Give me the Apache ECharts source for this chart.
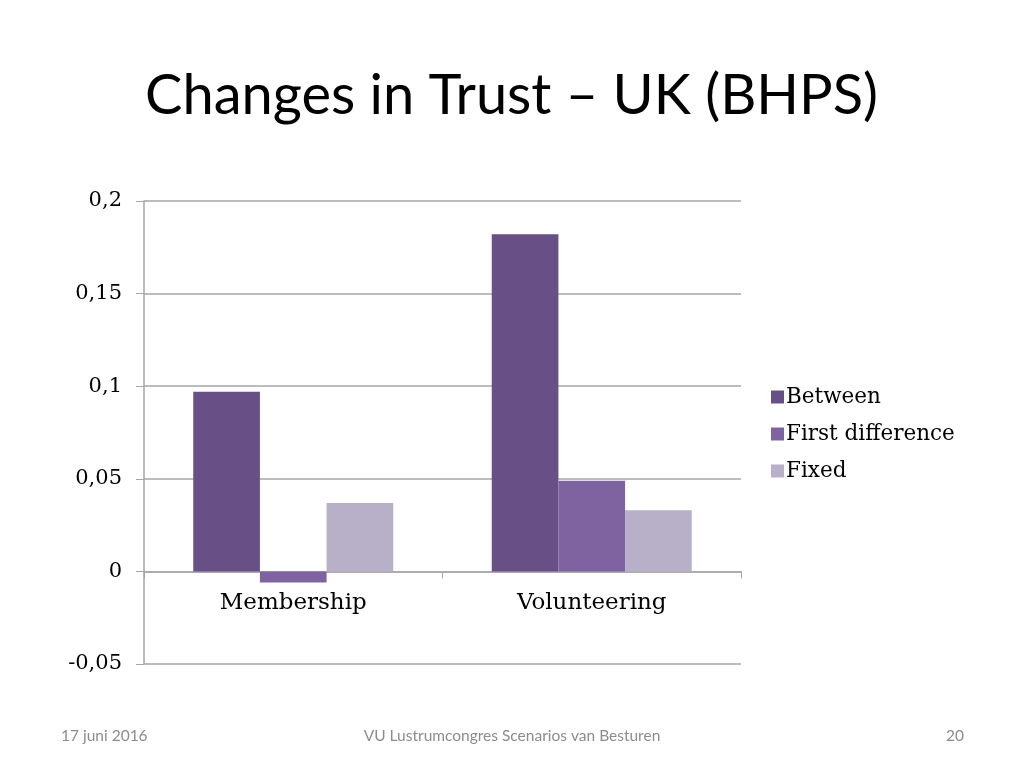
<!DOCTYPE html>
<html>
<head>
<meta charset="utf-8">
<script src="https://cdn.jsdelivr.net/npm/echarts@6/dist/echarts.min.js"></script>
<style>
  html, body { margin: 0; padding: 0; background: #fff; }
  #chart { width: 1024px; height: 768px; }
</style>
</head>
<body>
<div id="chart"></div>
<script>
// categorieën en waarden
var categories = ['Membership', 'Volunteering'];
var seriesNames = ['Between', 'First difference', 'Fixed'];
var between = [0.097, 0.182];
var firstDifference = [-0.006, 0.049];
var fixed = [0.037, 0.033];
var colors = ['#684f86', '#7f62a0', '#b7b0c8'];

var yMin = -0.05, yMax = 0.2, yStep = 0.05;
var gridTop = 201, gridBottom = 104, chartHeight = 768;

var serif = '"DejaVu Serif", "Liberation Serif", serif';
var footFont = { fontFamily: 'Lato, sans-serif', fontWeight: 'normal', fontSize: 15.5, color: '#8c8c8c' };

var myChart = echarts.init(document.getElementById('chart'));

function fmt(v) {
    return String(Math.round(v * 100) / 100).replace('.', ',');
}

// x-as op de nullijn leggen (met labels)
var plotHeight = chartHeight - gridTop - gridBottom;
var zeroOffset = -(0 - yMin) / (yMax - yMin) * plotHeight;

var option = {
    animation: false,
    backgroundColor: '#fff',
    color: colors,
    title: [
        {
            text: 'Changes in Trust – UK (BHPS)',
            left: 140,
            top: 63,
            textStyle: { fontFamily: 'Lato, "Open Sans", sans-serif', fontWeight: 'normal', fontSize: 56, color: '#000' }
        },
        { text: '17 juni 2016', left: 56, top: 723, textStyle: footFont },
        { text: 'VU Lustrumcongres Scenarios van Besturen', left: 'center', top: 723, textStyle: footFont },
        { text: '20', left: 941, top: 723, textStyle: footFont }
    ],
    legend: {
        orient: 'vertical',
        left: 766,
        top: 380,
        itemWidth: 13,
        itemHeight: 13,
        itemGap: 13,
        icon: 'rect',
        data: seriesNames,
        textStyle: { fontFamily: serif, fontSize: 21.5, color: '#000', lineHeight: 24, padding: [0, 0, 0, -3] }
    },
    grid: {
        left: 144,
        right: 283,
        top: gridTop,
        bottom: gridBottom
    },
    xAxis: {
        type: 'category',
        data: categories,
        offset: zeroOffset,
        axisLine: { onZero: false, lineStyle: { color: '#a6a6a6', width: 1.5 } },
        axisTick: { show: true, length: 7, lineStyle: { color: '#a6a6a6' } },
        axisLabel: { margin: 20, fontFamily: serif, fontSize: 23, color: '#000' }
    },
    yAxis: {
        type: 'value',
        min: yMin,
        max: yMax,
        interval: yStep,
        axisLine: { show: true, lineStyle: { color: '#a6a6a6', width: 1.5 } },
        axisTick: { show: true, length: 8, lineStyle: { color: '#a6a6a6' } },
        splitLine: { lineStyle: { color: '#a6a6a6', width: 1.5 } },
        axisLabel: { margin: 22, fontFamily: serif, fontSize: 21, color: '#000', formatter: fmt }
    },
    series: [
        { name: seriesNames[0], type: 'bar', data: between, barGap: '0%', barCategoryGap: '33%' },
        { name: seriesNames[1], type: 'bar', data: firstDifference },
        { name: seriesNames[2], type: 'bar', data: fixed }
    ]
};

myChart.setOption(option);
</script>
</body>
</html>
